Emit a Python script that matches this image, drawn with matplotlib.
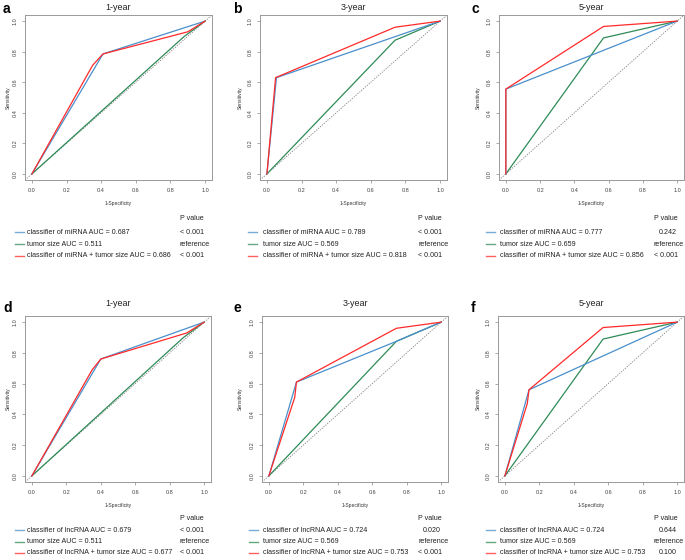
import matplotlib
matplotlib.use('Agg')
import matplotlib.pyplot as plt
from matplotlib.lines import Line2D

plt.rcParams['font.family'] = ['Liberation Sans', 'DejaVu Sans']

# --- datos (1-Specificity, Sensitivity) ---
# tumor size (mismo en miRNA y lncRNA)
size_1y_x = [0, 0.88, 1]
size_1y_y = [0, 0.90, 1]
size_3y_x = [0, 0.74, 1]
size_3y_y = [0, 0.875, 1]
size_5y_x = [0, 0.57, 1]
size_5y_y = [0, 0.89, 1]

# miRNA
mir_1y_x = [0, 0.41, 1]
mir_1y_y = [0, 0.785, 1]
mir_comb_1y_x = [0, 0.35, 0.41, 0.90, 1]
mir_comb_1y_y = [0, 0.71, 0.785, 0.93, 1]
mir_3y_x = [0, 0.055, 1]
mir_3y_y = [0, 0.63, 1]
mir_comb_3y_x = [0, 0.05, 0.74, 1]
mir_comb_3y_y = [0, 0.63, 0.96, 1]
mir_5y_x = [0, 0, 1]
mir_5y_y = [0, 0.555, 1]
mir_comb_5y_x = [0, 0, 0.57, 1]
mir_comb_5y_y = [0, 0.555, 0.965, 1]

# lncRNA
lnc_1y_x = [0, 0.40, 1]
lnc_1y_y = [0, 0.76, 1]
lnc_comb_1y_x = [0, 0.35, 0.40, 0.90, 1]
lnc_comb_1y_y = [0, 0.69, 0.76, 0.93, 1]
lnc_3y_x = [0, 0.16, 0.74, 1]
lnc_3y_y = [0, 0.61, 0.875, 1]
lnc_comb_3y_x = [0, 0.15, 0.16, 0.74, 1]
lnc_comb_3y_y = [0, 0.51, 0.61, 0.96, 1]
lnc_5y_x = [0, 0.14, 1]
lnc_5y_y = [0, 0.56, 1]
lnc_comb_5y_x = [0, 0.13, 0.14, 0.57, 1]
lnc_comb_5y_y = [0, 0.47, 0.56, 0.965, 1]

letras = ['a', 'b', 'c', 'd', 'e', 'f']
titulos = ['1-year', '3-year', '5-year', '1-year', '3-year', '5-year']
auc_clf = ['0.687', '0.789', '0.777', '0.679', '0.724', '0.724']
auc_size = ['0.511', '0.569', '0.659', '0.511', '0.569', '0.569']
auc_comb = ['0.686', '0.818', '0.856', '0.677', '0.753', '0.753']
p_clf = ['< 0.001', '< 0.001', '0.242', '< 0.001', '0.020', '0.644']
p_comb = ['< 0.001', '< 0.001', '< 0.001', '< 0.001', '< 0.001', '0.100']

curvas = [
    (mir_1y_x, mir_1y_y, size_1y_x, size_1y_y, mir_comb_1y_x, mir_comb_1y_y),
    (mir_3y_x, mir_3y_y, size_3y_x, size_3y_y, mir_comb_3y_x, mir_comb_3y_y),
    (mir_5y_x, mir_5y_y, size_5y_x, size_5y_y, mir_comb_5y_x, mir_comb_5y_y),
    (lnc_1y_x, lnc_1y_y, size_1y_x, size_1y_y, lnc_comb_1y_x, lnc_comb_1y_y),
    (lnc_3y_x, lnc_3y_y, size_3y_x, size_3y_y, lnc_comb_3y_x, lnc_comb_3y_y),
    (lnc_5y_x, lnc_5y_y, size_5y_x, size_5y_y, lnc_comb_5y_x, lnc_comb_5y_y),
]

azul = '#4a8fcb'
verde = '#2e8b57'
rojo = '#ff2a2a'

W, H = 685, 560
fig = plt.figure(figsize=(6.85, 5.6), dpi=100)


def fx(px):
    return px / W


def fy(py):
    return 1 - py / H


# cajas de los ejes en pixeles: izquierda, arriba, derecha, abajo
cajas = [(25, 15, 212, 180), (260, 15, 447, 180), (499, 15, 684, 180),
         (25, 316, 211, 482), (262, 316, 448, 482), (498, 316, 684, 482)]
pos_leyenda = [(15, 27, 180), (248, 263, 418), (486, 500, 654),
               (15, 27, 180), (249, 263, 418), (486, 500, 654)]
pos_letra = [(3, 9), (233, 9), (471, 9), (3, 308), (233, 308), (471, 308)]
pos_titulo = [7, 7, 7, 304, 304, 304]
pos_ylabel = [8, 240, 478, 8, 240, 478]
# filas de la leyenda: "P value", y las tres lineas (en pixeles)
filas_arriba = [219, 232, 244, 256]
filas_abajo = [518, 530, 541.5, 553]

for i in range(6):
    l, t, r, b = cajas[i]
    ax = fig.add_axes([fx(l), fy(b), fx(r - l), (b - t) / H])
    cx, cy, sx, sy, kx, ky = curvas[i]
    ax.axline((0, 0), slope=1, color='#7f7f7f', lw=0.6, ls=(0, (1.5, 1.5)))
    ax.plot(sx, sy, color=verde, lw=0.9)
    ax.plot(cx, cy, color=azul, lw=0.9)
    ax.plot(kx, ky, color=rojo, lw=0.9)
    ax.set_xlim(-0.04, 1.04)
    ax.set_ylim(-0.04, 1.04)
    ax.set_xticks([0, 0.2, 0.4, 0.6, 0.8, 1.0])
    ax.set_yticks([0, 0.2, 0.4, 0.6, 0.8, 1.0])
    ax.set_xticklabels(['0.0', '0.2', '0.4', '0.6', '0.8', '1.0'])
    ax.set_yticklabels(['0.0', '0.2', '0.4', '0.6', '0.8', '1.0'])
    ax.tick_params(length=2.5, width=0.5, color='#888888', labelsize=4,
                   labelcolor='#444444', pad=3)
    for lab in ax.get_yticklabels():
        lab.set_rotation(90)
        lab.set_va('center')
    for s in ax.spines.values():
        s.set_color('#999999')
        s.set_linewidth(0.7)

    # titulo, letra y etiquetas
    fig.text(fx((l + r) / 2), fy(pos_titulo[i]), titulos[i], ha='center',
             va='center', fontsize=6.5, color='#222222')
    fig.text(fx(pos_letra[i][0]), fy(pos_letra[i][1]), letras[i], ha='left',
             va='center', fontsize=10, fontweight='bold')
    fig.text(fx((l + r) / 2), fy(b + 23), '1-Specificity', ha='center',
             va='center', fontsize=3.6, color='#333333')
    fig.text(fx(pos_ylabel[i]), fy((t + b) / 2), 'Sensitivity', ha='center',
             va='center', rotation=90, fontsize=3.6, color='#333333')

    # leyenda
    x0, xt, xp = pos_leyenda[i]
    filas = filas_arriba if i < 3 else filas_abajo
    nombre = 'miRNA' if i < 3 else 'lncRNA'
    textos = ['classifier of %s AUC = %s' % (nombre, auc_clf[i]),
              'tumor size AUC = %s' % auc_size[i],
              'classifier of %s + tumor size AUC = %s' % (nombre, auc_comb[i])]
    pvals = [p_clf[i], 'reference', p_comb[i]]
    colores = [azul, verde, rojo]
    fig.text(fx(xp), fy(filas[0]), 'P value', ha='left', va='center',
             fontsize=5.1, color='#222222')
    for k in range(3):
        yy = filas[k + 1]
        fig.add_artist(Line2D([fx(x0), fx(x0 + 9)], [fy(yy), fy(yy)],
                              color=colores[k], lw=1.0, alpha=0.75))
        fig.text(fx(xt), fy(yy), textos[k], ha='left', va='center',
                 fontsize=5.1, color='#222222')
        dx = 0 if (pvals[k].startswith('<') or pvals[k] == 'reference') else 5
        fig.text(fx(xp + dx), fy(yy), pvals[k], ha='left', va='center',
                 fontsize=5.1, color='#222222')

fig.savefig('out.png', dpi=100)
